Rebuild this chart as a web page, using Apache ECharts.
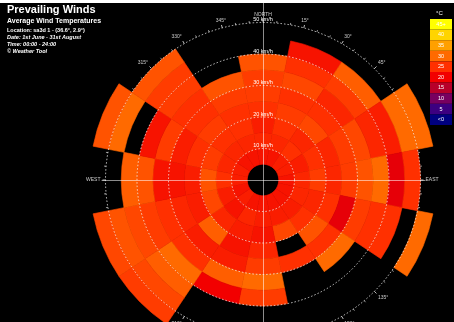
<!DOCTYPE html>
<html><head><meta charset="utf-8">
<script src="https://cdn.jsdelivr.net/npm/echarts/dist/echarts.min.js"></script>
<style>
html,body{margin:0;padding:0;background:#fff;width:454px;height:322px;overflow:hidden}
#c{position:absolute;left:0;top:3px;width:454px;height:319px;background:#000}
</style>
</head><body><div id="c"></div>
<script>
// Wind directions (sector centres, degrees clockwise from north)
const directions = [0, 22.5, 45, 67.5, 90, 112.5, 135, 157.5, 180, 202.5, 225, 247.5, 270, 292.5, 315, 337.5];
// Lower bound of each wind-speed bin (km/h)
const speedBins = [5, 10, 15, 20, 25, 30, 35, 40, 45, 50];
const binWidth = 5;

// Average temperature (°C) per speed bin, one array per direction (null = no data)
const N   = [22, 24, 23, 25, 26, 26, 28, null, null, null];
const NNE = [22, 24, 25, 26, 25, 27, 25, 22, null, null];
const NE  = [23, 25, 24, 27, 25, 24, 26, 29, null, null];
const ENE = [23, 23, 25, 24, 26, 27, 24, 23, 30, 30];
const E   = [22, 24, 26, 24, 26, 28, 30, 19, 25, null];
const ESE = [22, 24, 24, 25, 19, 26, 25, 25, null, 30];
const SE  = [22, 23, 25, 28, 25, 30, null, null, null, null];
const SSE = [22, 23, 27, null, 25, null, null, null, null, null];
const S   = [22, 23, 22, 24, 26, 30, 26, null, null, null];
const SSW = [22, 24, 23, 22, 23, 29, 20, null, null, null];
const SW  = [23, 22, 24, 29, 23, 25, 30, 29, 27, 26];
const WSW = [22, 23, 27, 23, 24, 25, 26, 27, 28, 27];
const W   = [23, 25, 28, 23, 22, 22, 28, 29, null, null];
const WNW = [23, 24, 26, 25, 23, 26, 22, null, 30, 28];
const NW  = [22, 24, 25, 26, 25, 25, 26, 26, 28, null];
const NNW = [22, 24, 25, 25, 26, 28, null, null, null, null];
const temperatures = [N, NNE, NE, ENE, E, ESE, SE, SSE, S, SSW, SW, WSW, W, WNW, NW, NNW];

// Axis tick labels
const radiusTicks = [10, 20, 30, 40, 50];
const cardinalLabels = {0: 'NORTH', 90: 'EAST', 180: 'SOUTH', 270: 'WEST'};

// Colour scale (°C)
const scaleValues = [0, 5, 10, 15, 20, 25, 30, 35, 40, 45];
const scaleColors = ['#000080', '#3c0080', '#780060', '#b8002a', '#f20000', '#ff3000', '#ff6a00', '#ffa000', '#ffd400', '#ffff00'];
const legendLabels = ['45+', '40', '35', '30', '25', '20', '15', '10', '5', '<0'];

const cells = [];
temperatures.forEach((row, i) => row.forEach((t, j) => {
  if (t !== null) cells.push([speedBins[j], directions[i], t]);
}));

const FONT = '"Liberation Sans", Arial, sans-serif';

function renderCell(params, api) {
  const cs = params.coordSys;
  const lo = api.value(0), hi = lo + binWidth, a = api.value(1);
  const half = 360 / directions.length / 2;
  const pIn = api.coord([lo, a]), pOut = api.coord([hi, a]);
  const pS = api.coord([hi, a - half]), pE = api.coord([hi, a + half]);
  const r0 = Math.hypot(pIn[0] - cs.cx, pIn[1] - cs.cy);
  const r = Math.hypot(pOut[0] - cs.cx, pOut[1] - cs.cy);
  let s = Math.atan2(pS[1] - cs.cy, pS[0] - cs.cx);
  let e = Math.atan2(pE[1] - cs.cy, pE[0] - cs.cx);
  if (e < s) e += 2 * Math.PI;
  const color = api.visual('color');
  return {
    type: 'sector',
    shape: {cx: cs.cx, cy: cs.cy, r0: r0, r: r, startAngle: s, endAngle: e, clockwise: true},
    style: {fill: color, stroke: color, lineWidth: 0.6}
  };
}

const chart = echarts.init(document.getElementById('c'), null, {renderer: 'canvas'});
const titleStyle = (size, weight, style) => ({color: '#fff', fontSize: size, fontWeight: weight, fontStyle: style, fontFamily: FONT});
chart.setOption({
  backgroundColor: '#000',
  animation: false,
  title: [
    {text: 'Prevailing Winds', left: 7, top: 1, padding: 0, textStyle: titleStyle(11, 'bold', 'normal')},
    {text: 'Average Wind Temperatures', left: 7, top: 15, padding: 0, textStyle: titleStyle(7, 'bold', 'normal')},
    {text: 'Location: sa3d 1 - (36.6°, 2.9°)', left: 7, top: 24, padding: 0, textStyle: titleStyle(5.5, 'bold', 'normal')},
    {text: 'Date: 1st June - 31st August', left: 7, top: 31, padding: 0, textStyle: titleStyle(5.5, 'bold', 'italic')},
    {text: 'Time: 00:00 - 24:00', left: 7, top: 38, padding: 0, textStyle: titleStyle(5.5, 'bold', 'italic')},
    {text: '© Weather Tool', left: 7, top: 45, padding: 0, textStyle: titleStyle(5.5, 'bold', 'italic')},
    {text: '°C', left: 436, top: 7, padding: 0, textStyle: titleStyle(6, 'normal', 'normal')}
  ],
  polar: {center: [263, 177], radius: [0, 157.5]},
  angleAxis: {
    type: 'value', min: 0, max: 360, interval: 15, startAngle: 90, clockwise: true, z: 0,
    axisLine: {show: false},
    axisTick: {show: true, length: 3, lineStyle: {color: '#bbb', width: 1}},
    minorTick: {show: true, splitNumber: 3, length: 2, lineStyle: {color: '#999', width: 1}},
    splitLine: {show: false},
    axisLabel: {
      color: '#ccc', fontSize: 5, margin: 5, fontFamily: FONT,
      formatter: v => v === 360 ? '' : (cardinalLabels[v] || (v + '°'))
    }
  },
  radiusAxis: {
    type: 'value', min: 0, max: radiusTicks[radiusTicks.length - 1], interval: radiusTicks[0], z: 10,
    axisLine: {show: false}, axisTick: {show: false},
    axisLabel: {
      formatter: v => radiusTicks.indexOf(v) >= 0 ? v + ' km/h' : '',
      color: '#fff', fontSize: 5.5, margin: 0, align: 'center', verticalAlign: 'bottom', fontFamily: FONT
    },
    splitLine: {show: true, lineStyle: {color: 'rgba(255,255,255,0.75)', type: [1.5, 2], width: 1}}
  },
  grid: [
    {left: 102, right: 29, top: 0, bottom: 0},
    {left: 430, width: 22, top: 16, height: 106}
  ],
  xAxis: [
    {gridIndex: 0, type: 'value', min: -161, max: 162, z: 10,
     axisLine: {show: true, onZero: true, lineStyle: {color: 'rgba(255,255,255,0.55)', width: 1}},
     axisTick: {show: false}, axisLabel: {show: false}, splitLine: {show: false}},
    {gridIndex: 1, type: 'value', min: 0, max: 1, show: false}
  ],
  yAxis: [
    {gridIndex: 0, type: 'value', min: -142, max: 177, z: 10,
     axisLine: {show: true, onZero: true, lineStyle: {color: 'rgba(255,255,255,0.55)', width: 1}},
     axisTick: {show: false}, axisLabel: {show: false}, splitLine: {show: false}},
    {gridIndex: 1, type: 'category', data: legendLabels, inverse: true, show: false}
  ],
  visualMap: {
    type: 'continuous', show: false, seriesIndex: 0, dimension: 2,
    min: scaleValues[0], max: scaleValues[scaleValues.length - 1],
    inRange: {color: scaleColors}
  },
  series: [
    {type: 'custom', coordinateSystem: 'polar', polarIndex: 0, renderItem: renderCell, data: cells, silent: true},
    {type: 'bar', xAxisIndex: 1, yAxisIndex: 1, barWidth: '100%', barCategoryGap: 0, silent: true,
     data: scaleColors.slice().reverse().map(c => ({value: 1, itemStyle: {color: c}})),
     label: {show: true, position: 'inside', color: '#fff', fontSize: 5.5, fontFamily: FONT,
             formatter: p => legendLabels[p.dataIndex]}}
  ]
});
</script>
</body></html>
